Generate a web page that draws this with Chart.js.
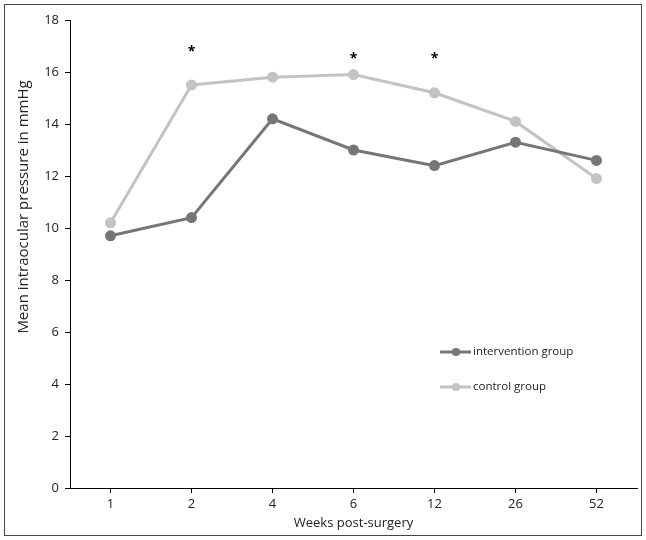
<!DOCTYPE html>
<html>
<head>
<meta charset="utf-8">
<script src="https://cdn.jsdelivr.net/npm/chart.js@4/dist/chart.umd.min.js"></script>
<style>
  html, body { margin: 0; padding: 0; background: #fff; }
  #wrap { position: relative; width: 646px; height: 540px; }
</style>
</head>
<body>
<div id="wrap"><canvas id="ipChart" width="646" height="540"></canvas></div>
<script>
// weeks after surgery (category axis)
var weeks = ['1', '2', '4', '6', '12', '26', '52'];
// mean IOP in mmHg
var interventionIOP = [9.7, 10.4, 14.2, 13.0, 12.4, 13.3, 12.6];
var controlIOP      = [10.2, 15.5, 15.8, 15.9, 15.2, 14.1, 11.9];
// significance marks
var starWeeks  = ['2', '6', '12'];
var starLevels = [16.75, 16.5, 16.5];
var yTicks = [0, 2, 4, 6, 8, 10, 12, 14, 16, 18];
var yTitle = 'Mean intraocular pressure in mmHg';

const FONT = "'Open Sans', 'Noto Sans', sans-serif";

// border round the whole picture + y title (sits above the axis centre in the original)
const framePlugin = {
  id: 'frame',
  afterDraw(chart) {
    const ctx = chart.ctx;
    ctx.save();
    ctx.strokeStyle = '#444';
    ctx.lineWidth = 1;
    ctx.strokeRect(4.5, 4.5, 637, 531);

    ctx.translate(24, 207);
    ctx.rotate(-Math.PI / 2);
    ctx.fillStyle = '#222';
    ctx.font = "15px " + FONT;
    ctx.textAlign = 'center';
    ctx.textBaseline = 'middle';
    ctx.fillText(yTitle, 0, 0);
    ctx.restore();
  }
};

// asterisks over the significant weeks
const starPlugin = {
  id: 'stars',
  afterDatasetsDraw(chart) {
    const ctx = chart.ctx;
    const xs = chart.scales.x, ys = chart.scales.y;
    ctx.save();
    ctx.fillStyle = '#000';
    ctx.font = "bold 14px " + FONT;
    ctx.textAlign = 'center';
    ctx.textBaseline = 'middle';
    starWeeks.forEach(function (w, i) {
      ctx.fillText('*', xs.getPixelForValue(weeks.indexOf(w)), ys.getPixelForValue(starLevels[i]));
    });
    ctx.restore();
  }
};

// legend sitting inside the plot, lower right
const innerLegend = {
  id: 'innerLegend',
  afterDraw(chart) {
    const ctx = chart.ctx;
    ctx.save();
    chart.data.datasets.forEach(function (ds, i) {
      const y = 352 + i * 35;
      ctx.strokeStyle = ds.borderColor;
      ctx.lineWidth = 3;
      ctx.beginPath();
      ctx.moveTo(440, y);
      ctx.lineTo(471, y);
      ctx.stroke();
      ctx.fillStyle = ds.borderColor;
      ctx.beginPath();
      ctx.arc(456, y, 4, 0, Math.PI * 2);
      ctx.fill();
      ctx.fillStyle = '#222';
      ctx.font = "11.5px " + FONT;
      ctx.textBaseline = 'middle';
      ctx.fillText(ds.label, 473, y);
    });
    ctx.restore();
  }
};

new Chart(document.getElementById('ipChart'), {
  type: 'line',
  data: {
    labels: weeks,
    datasets: [{
      label           : 'intervention group',
      data            : interventionIOP,
      borderColor     : '#767676',
      backgroundColor : '#767676',
      borderWidth     : 3,
      pointRadius     : 4,
      pointHoverRadius: 4,
      tension         : 0,
    }, {
      label           : 'control group',
      data            : controlIOP,
      borderColor     : '#c3c3c3',
      backgroundColor : '#c3c3c3',
      borderWidth     : 3,
      pointRadius     : 4,
      pointHoverRadius: 4,
      tension         : 0,
    }],
  },
  options: {
    responsive: false,
    animation: false,
    layout: { padding: { top: 20, right: 9, left: 8, bottom: 0 } },
    plugins: {
      legend: { display: false },
      tooltip: { enabled: false },
    },
    scales: {
      x: {
        offset: true,
        afterFit(scale) { scale.height = 52; },
        border: { color: '#000', width: 1 },
        grid: { offset: false, drawOnChartArea: false, drawTicks: true, tickLength: 5, color: '#000' },
        ticks: { color: '#222', font: { family: FONT, size: 13 }, padding: 3 },
        title: { display: true, text: 'Weeks post-surgery', color: '#222',
                 font: { family: FONT, size: 13 }, padding: { top: 0, bottom: 9 } },
      },
      y: {
        min: 0,
        max: 18,
        afterFit(scale) { scale.width = 62; },
        afterBuildTicks(scale) { scale.ticks = yTicks.map(function (v) { return { value: v }; }); },
        border: { color: '#000', width: 1 },
        grid: { drawOnChartArea: false, drawTicks: true, tickLength: 5, color: '#000' },
        ticks: { color: '#222', font: { family: FONT, size: 13 }, padding: 6 },
        title: { display: false },
      },
    },
  },
  plugins: [framePlugin, starPlugin, innerLegend],
});
</script>
</body>
</html>
